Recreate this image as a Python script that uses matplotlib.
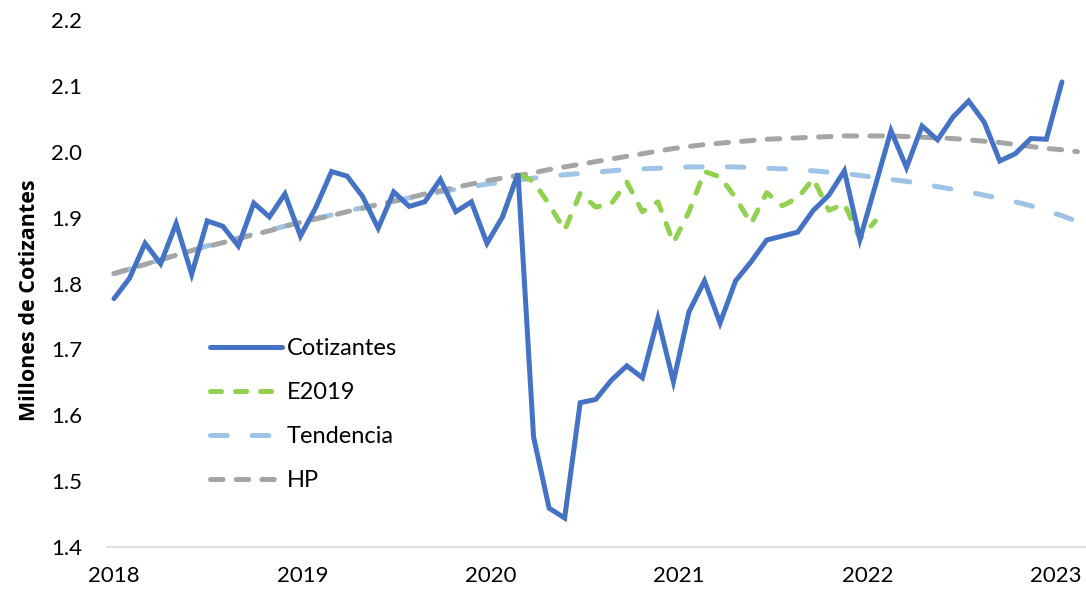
import matplotlib
matplotlib.use("Agg")
import matplotlib.pyplot as plt
import numpy as np

# monthly series, Jan 2018 .. Feb 2023 (Cotizantes) / Mar 2023 (trends)
cotizantes = [1.777, 1.808, 1.861, 1.830, 1.891, 1.814, 1.895, 1.887, 1.857, 1.922, 1.901, 1.936,
              1.872, 1.916, 1.970, 1.963, 1.932, 1.884, 1.939, 1.917, 1.924, 1.958, 1.909, 1.924,
              1.861, 1.901, 1.967, 1.567, 1.459, 1.444, 1.619, 1.624, 1.653, 1.675, 1.657, 1.747,
              1.651, 1.757, 1.804, 1.740, 1.804, 1.833, 1.866, 1.872, 1.878, 1.911, 1.934, 1.971,
              1.867, 1.949, 2.032, 1.976, 2.039, 2.018, 2.053, 2.077, 2.045, 1.986, 1.997, 2.020,
              2.019, 2.106]

# E2019 scenario, starts Feb 2020 (month 25)
e2019_start = 25
e2019 = [1.901, 1.967, 1.955, 1.920, 1.881, 1.937, 1.916, 1.921, 1.954, 1.909, 1.924,
         1.862, 1.909, 1.970, 1.962, 1.930, 1.891, 1.938, 1.918, 1.930, 1.959, 1.911,
         1.921, 1.868, 1.895]

tendencia = [1.815, 1.822, 1.829, 1.836, 1.843, 1.850, 1.857, 1.863, 1.869, 1.875, 1.881, 1.887,
             1.893, 1.899, 1.904, 1.910, 1.915, 1.920, 1.925, 1.930, 1.935, 1.939, 1.943, 1.947,
             1.951, 1.954, 1.957, 1.960, 1.963, 1.965, 1.967, 1.969, 1.971, 1.973, 1.974, 1.975,
             1.976, 1.977, 1.977, 1.977, 1.977, 1.976, 1.975, 1.974, 1.973, 1.971, 1.969, 1.967,
             1.964, 1.961, 1.958, 1.955, 1.951, 1.947, 1.943, 1.939, 1.934, 1.929, 1.924, 1.918,
             1.910, 1.903, 1.894]

hp = [1.815, 1.822, 1.829, 1.836, 1.843, 1.850, 1.856, 1.862, 1.868, 1.874, 1.880, 1.887,
      1.893, 1.898, 1.903, 1.909, 1.914, 1.920, 1.925, 1.930, 1.936, 1.941, 1.946, 1.951,
      1.956, 1.960, 1.964, 1.968, 1.973, 1.977, 1.981, 1.985, 1.989, 1.993, 1.997, 2.001,
      2.005, 2.008, 2.011, 2.013, 2.015, 2.017, 2.019, 2.020, 2.021, 2.022, 2.023, 2.024,
      2.024, 2.024, 2.024, 2.023, 2.022, 2.021, 2.020, 2.018, 2.016, 2.014, 2.011, 2.008,
      2.005, 2.003, 2.000]

years = ["2018", "2019", "2020", "2021", "2022", "2023"]
yticks = [1.4, 1.5, 1.6, 1.7, 1.8, 1.9, 2.0, 2.1, 2.2]

plt.rcParams['font.family'] = ['Lato', 'DejaVu Sans']
plt.rcParams['lines.scale_dashes'] = False

fig = plt.figure(figsize=(10.86, 5.95), dpi=100)
ax = fig.add_axes([107/1086, 48/595, 979/1086, 527/595])

t_cot = np.arange(len(cotizantes))
t_e = np.arange(e2019_start, e2019_start + len(e2019))
t_tr = np.arange(len(tendencia))

lw = 3.6
ax.plot(t_tr, hp, color='#A5A5A5', lw=lw, dashes=(9, 9.5), dash_capstyle='round', label='HP', zorder=2)
ax.plot(t_tr, tendencia, color='#9DC3E6', lw=lw, dashes=(12, 18), dash_capstyle='round', label='Tendencia', zorder=1)
ax.plot(t_e, e2019, color='#92D050', lw=lw, dashes=(8, 10), dash_capstyle='round', label='E2019', zorder=3)
ax.plot(t_cot, cotizantes, color='#4472C4', lw=lw, solid_capstyle='round', solid_joinstyle='miter', label='Cotizantes', zorder=4)

ax.set_xlim(-0.45, 62.55)
ax.set_ylim(1.4, 2.2)
ax.set_yticks(yticks)
ax.set_yticklabels([f"{v:.1f}" for v in yticks])
ax.set_xticks(np.arange(len(years)) * 12.12)
ax.set_xticklabels(years)
ax.tick_params(axis='y', length=0, pad=18, labelsize=16, colors='#000000')
ax.tick_params(axis='x', length=0, pad=14, labelsize=16, colors='#000000')
for s in ['top', 'right', 'left']:
    ax.spines[s].set_visible(False)
ax.spines['bottom'].set_color('#D9D9D9')
ax.spines['bottom'].set_linewidth(1.2)

fig.text(30/1086, 1 - 300/595, 'Millones de Cotizantes', rotation=90, fontsize=15.5,
         fontweight='bold', family=['Open Sans', 'DejaVu Sans'], ha='center', va='center')

handles, labels = ax.get_legend_handles_labels()
order = [3, 2, 1, 0]
ax.legend([handles[i] for i in order], [labels[i] for i in order], loc='upper left',
          bbox_to_anchor=(210/1086, 1 - 338/595), bbox_transform=fig.transFigure,
          frameon=False, fontsize=17, handlelength=3.05, handletextpad=0.2,
          labelspacing=0.98, borderpad=0, borderaxespad=0)

fig.savefig('out.png', dpi=100)
